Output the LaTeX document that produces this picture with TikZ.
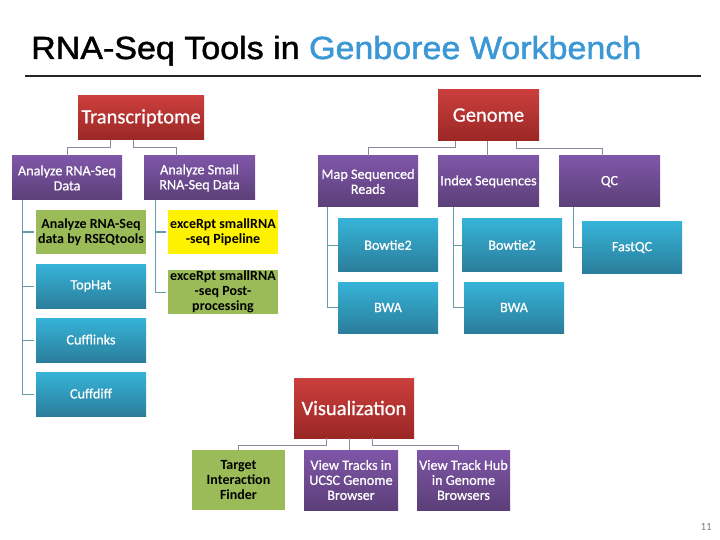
\documentclass[tikz,border=0pt]{standalone}
\usepackage{fontspec}
\setmainfont{Carlito}
\newfontfamily\titlefont[FakeStretch=1.063,FakeBold=1.5]{Liberation Sans}
\newfontfamily\wfont[FakeBold=0.7]{Carlito}
\definecolor{titleblue}{HTML}{3B98D4}
\definecolor{pagenum}{HTML}{808080}
\definecolor{linkc}{HTML}{6A9BAB}
\definecolor{linkp}{HTML}{8F869C}
\definecolor{RedT}{HTML}{CB3F3D}
\definecolor{RedB}{HTML}{9A2725}
\definecolor{PurT}{HTML}{7F56A8}
\definecolor{PurB}{HTML}{5C3F78}
\definecolor{BluT}{HTML}{36B3D8}
\definecolor{BluB}{HTML}{2B7E9B}
\definecolor{GreenF}{HTML}{9BBB59}
\tikzset{
  x=1pt,y=-1pt,
  sz/.style 2 args={minimum width=#1pt,minimum height=#2pt},
  box/.style={anchor=north west,inner sep=0pt,outer sep=0pt,align=center,text=white,font=\wfont\fontsize{14.2}{15}\selectfont},
  redbox/.style={box,top color=RedT,bottom color=RedB,font=\wfont\fontsize{20.5}{22}\selectfont},
  purplebox/.style={box,top color=PurT,bottom color=PurB},
  bluebox/.style={box,top color=BluT,bottom color=BluB},
  greenbox/.style={box,fill=GreenF,text=black,font=\bfseries\fontsize{14}{15}\selectfont},
  yellowbox/.style={box,fill=yellow,text=black,font=\bfseries\fontsize{14}{15}\selectfont},
  linkpur/.style={draw=linkp,line width=1pt},
  linkblu/.style={draw=linkc,line width=1pt,shorten >=2pt},
}
\begin{document}
\begin{tikzpicture}
\useasboundingbox (0,0) rectangle (720,540);
\node[anchor=base west,inner sep=0pt,font=\titlefont\fontsize{32}{36}\selectfont] (title) at (31,59) {RNA-Seq Tools in \textcolor{titleblue}{Genboree Workbench}};
\coordinate (ruleL) at (25,76);
\coordinate (ruleR) at (701,76);
\draw[line width=2pt,black!85] (ruleL) -- (ruleR);
\node[anchor=base east,inner sep=0pt,text=pagenum,font=\fontsize{11}{13}\selectfont] (pg) at (712,530) {11};

% Transcriptome
\node[redbox,sz={126}{44}] (tr) at (78,96) {\raisebox{-2pt}{Transcriptome}};
\node[purplebox,sz={110}{44}] (ar) at (12,156) {Analyze RNA-Seq\\Data};
\node[purplebox,sz={111}{44}] (as) at (144,156) {Analyze Small\\RNA-Seq Data};
\node[greenbox,sz={110}{44}] (rs) at (36,210) {Analyze RNA-Seq\\data by RSEQtools};
\node[bluebox,sz={110}{44}] (th) at (36,264) {TopHat};
\node[bluebox,sz={110}{44}] (cl) at (36,318) {\raisebox{1pt}{Cufflinks}};
\node[bluebox,sz={110}{44}] (cd) at (36,372) {\raisebox{1pt}{Cuffdiff}};
\node[yellowbox,sz={110}{44}] (ex) at (168,210) {exceRpt smallRNA\\-seq Pipeline};
\node[greenbox,sz={110}{44}] (ep) at (168,270) {exceRpt smallRNA\\-seq Post-\\processing};
\draw[linkpur] ([xshift=32pt]tr.south west) -- ++(0,8) -| (ar.north);
\draw[linkpur] ([xshift=55pt]tr.south west) -- ++(0,8) -| ([xshift=32pt]as.north west);
\foreach \n in {rs,th,cl,cd}{\draw[linkblu] ([xshift=10pt]ar.south west) |- (\n.west);}
\foreach \n in {ex,ep}{\draw[linkblu] ([xshift=11pt]as.south west) |- (\n.west);}

% Genome
\node[redbox,sz={101}{51}] (ge) at (438,90) {\raisebox{1pt}{Genome}};
\node[purplebox,sz={100}{51}] (ma) at (318,156) {Map Sequenced\\Reads};
\node[purplebox,sz={101}{51}] (ix) at (438,156) {Index Sequences};
\node[purplebox,sz={101}{51}] (qc) at (559,156) {QC};
\node[bluebox,sz={100}{52}] (b1) at (338,219) {Bowtie2};
\node[bluebox,sz={100}{51}] (w1) at (338,282) {BWA};
\node[bluebox,sz={100}{52}] (b2) at (462,219) {Bowtie2};
\node[bluebox,sz={100}{51}] (w2) at (464,282) {BWA};
\node[bluebox,sz={100}{51}] (fq) at (582,222) {FastQC};
\draw[linkpur] ([xshift=17pt]ge.south west) -- ++(0,7) -| (ma.north);
\draw[linkpur] ([xshift=49pt]ge.south west) -- ([xshift=49pt]ix.north west);
\draw[linkpur] ([xshift=78pt]ge.south west) -- ++(0,7.5) -| ([xshift=43.5pt]qc.north west);
\foreach \n in {b1,w1}{\draw[linkblu,shorten >=0pt] ([xshift=9pt]ma.south west) |- (\n.west);}
\draw[linkblu,shorten >=0pt] ([xshift=15.5pt]ix.south west) |- (b2.west);
\draw[linkblu,shorten >=0pt] ([xshift=15.5pt]ix.south west) |- (w2.west);
\draw[linkblu,shorten >=0pt] ([xshift=14.5pt]qc.south west) |- (fq.west);

% Visualization
\node[redbox,sz={120}{60}] (vi) at (294,378) {Visualization};
\node[greenbox,sz={93}{60}] (tf) at (192,450) {Target\\Interaction\\Finder};
\node[purplebox,sz={94}{60}] (vt) at (304,450) {View Tracks in\\UCSC Genome\\Browser};
\node[purplebox,sz={93}{60}] (vh) at (417,450) {View Track Hub\\in Genome\\Browsers};
\draw[linkpur] ([xshift=32pt]vi.south west) -- ++(0,7) -| (tf.north);
\draw[linkpur] ([xshift=55.5pt]vi.south west) -- ([xshift=45.5pt]vt.north west);
\draw[linkpur] ([xshift=78pt]vi.south west) -- ++(0,7) -| ([xshift=41pt]vh.north west);
\end{tikzpicture}
\end{document}
